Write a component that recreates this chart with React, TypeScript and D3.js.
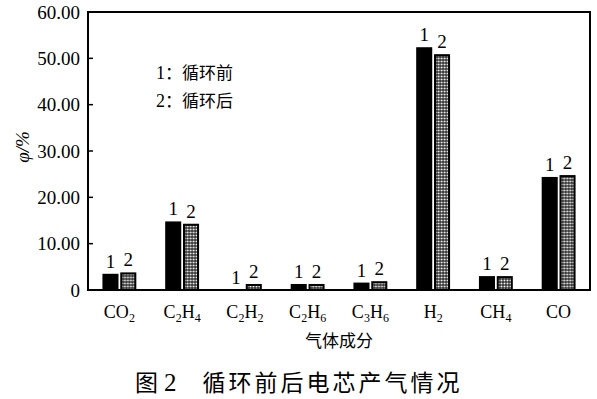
import * as d3 from "d3";

// gases on the x axis, as [main, sub] pieces
const categories = ["CO2", "C2H4", "C2H2", "C2H6", "C3H6", "H2", "CH4", "CO"];
const categoryParts: [string, string][][] = [
  [["CO", "2"]],
  [["C", "2"], ["H", "4"]],
  [["C", "2"], ["H", "2"]],
  [["C", "2"], ["H", "6"]],
  [["C", "3"], ["H", "6"]],
  [["H", "2"]],
  [["CH", "4"]],
  [["CO", ""]],
];
const series = ["1", "2"];
const beforeCycle = [3.5, 14.8, 0, 1.3, 1.6, 52.4, 3.0, 24.4];
const afterCycle = [3.8, 14.3, 1.3, 1.3, 1.9, 50.9, 3.0, 24.8];
const yTicks = [0, 10, 20, 30, 40, 50, 60];
const yTickLabels = ["0", "10.00", "20.00", "30.00", "40.00", "50.00", "60.00"];
const legendItems = [["1", "：循环前"], ["2", "：循环后"]];

const W = 597;
const H = 399;
const margin = { top: 12, left: 88, right: 7, bottom: 109 };
const serif = "'Liberation Serif', 'Times New Roman', serif";
const cjk = "'Noto Sans CJK SC', sans-serif";

export default function App() {
  const plotW = W - margin.left - margin.right;
  const plotH = H - margin.top - margin.bottom;

  const x0 = d3.scaleBand<string>()
    .domain(categories)
    .range([margin.left, margin.left + plotW])
    .paddingInner(0.46)
    .paddingOuter(0.23);
  const x1 = d3.scaleBand<string>()
    .domain(series)
    .range([0, x0.bandwidth()])
    .paddingInner(0.1);
  const y = d3.scaleLinear().domain([0, 60]).range([margin.top + plotH, margin.top]);

  const data = categories.map((c, i) => ({ cat: c, values: [beforeCycle[i], afterCycle[i]] }));

  return (
    <svg width={W} height={H} style={{ position: "absolute", left: 0, top: 0, background: "#fff" }}>
      <defs>
        <pattern id="dots" width="3" height="3" patternUnits="userSpaceOnUse">
          <rect width="3" height="3" fill="#000" />
          <rect x="0.5" y="0.5" width="2" height="2" fill="#fff" />
        </pattern>
      </defs>

      {/* bars */}
      {data.map((d) => (
        <g key={d.cat} transform={`translate(${x0(d.cat)},0)`}>
          {d.values.map((v, j) => {
            const bx = x1(series[j])!;
            const bw = x1.bandwidth();
            return (
              <g key={j}>
                {v > 0 && (
                  j === 0 ? (
                    <rect x={bx} y={y(v)} width={bw} height={y(0) - y(v)} fill="#000" />
                  ) : (
                    <rect x={bx + 1} y={y(v) + 1} width={bw - 2} height={y(0) - y(v) - 1}
                      fill="url(#dots)" stroke="#000" strokeWidth={2} />
                  )
                )}
                <text x={bx + bw / 2} y={y(v) - 6} textAnchor="middle" fontFamily={serif} fontSize={19}>
                  {series[j]}
                </text>
              </g>
            );
          })}
        </g>
      ))}

      {/* frame */}
      <rect x={margin.left} y={margin.top} width={plotW} height={plotH} fill="none" stroke="#000" strokeWidth={2} />

      {/* y axis */}
      {yTicks.map((t, i) => (
        <g key={t}>
          <line x1={margin.left} x2={margin.left + 5} y1={y(t)} y2={y(t)} stroke="#000" strokeWidth={1.5} />
          <text x={80} y={y(t)} dy="0.35em" textAnchor="end" fontFamily={serif} fontSize={19}>
            {yTickLabels[i]}
          </text>
        </g>
      ))}
      <text transform={`translate(29,${margin.top + plotH / 2 - 4}) rotate(-90)`} textAnchor="middle"
        fontFamily={serif} fontSize={19} fontStyle="italic">φ/%</text>

      {/* x axis labels */}
      {categories.map((c, i) => (
        <text key={c} x={x0(c)! + x0.bandwidth() / 2} y={318} textAnchor="middle" fontFamily={serif} fontSize={18}>
          {categoryParts[i].map(([m, s], k) => [
            <tspan key={`m${k}`} dy={k === 0 ? 0 : -4}>{m}</tspan>,
            s ? <tspan key={`s${k}`} fontSize={12} dy={4}>{s}</tspan> : null,
          ])}
        </text>
      ))}
      <text x={margin.left + plotW / 2} y={347} textAnchor="middle" fontFamily={cjk} fontSize={17}>气体成分</text>

      {/* legend */}
      {legendItems.map(([n, l], i) => (
        <text key={n} x={156} y={79 + i * 28} fontSize={17}>
          <tspan fontFamily={serif} fontSize={18}>{n}</tspan>
          <tspan fontFamily={cjk}>{l}</tspan>
        </text>
      ))}

      {/* caption */}
      <text x={135} y={391} fontSize={23}>
        <tspan fontFamily={cjk}>图</tspan>
        <tspan fontFamily={serif} fontSize={25} dx={6}>2</tspan>
        <tspan fontFamily={cjk} dx={26} letterSpacing={3}>循环前后电芯产气情况</tspan>
      </text>
    </svg>
  );
}
